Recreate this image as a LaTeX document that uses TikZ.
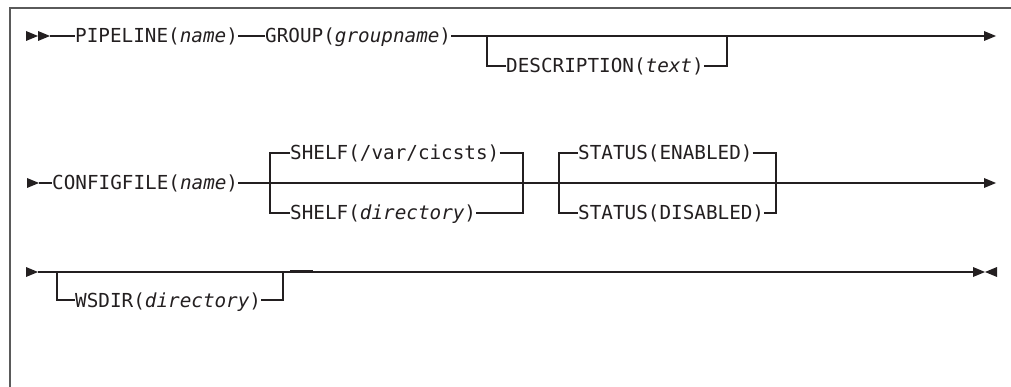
\documentclass[tikz,border=0pt]{standalone}
\usepackage{fontspec}
\newfontfamily\synfont{DejaVu Sans Mono}
\definecolor{ink}{HTML}{231F20}
\definecolor{framegray}{HTML}{5A5A5A}
\begin{document}
\begin{tikzpicture}[x=1pt,y=-1pt,
  kw/.style={anchor=base west,inner sep=0pt,font=\synfont\fontsize{19.3}{22}\selectfont,text=ink},
  rail/.style={draw=ink,line width=1.4pt},
  tip/.style={fill=ink}]
\useasboundingbox (0,0) rectangle (1011,387);
% frame
\draw[framegray,line width=2pt] (9.5,387) -- (9.5,8.5) -- (1011,8.5);

% ---------- row 1 ----------
\coordinate (r1s) at (50,36);
\fill[tip] (26,31) -- (38,36) -- (26,41) -- cycle;
\fill[tip] (38,31) -- (50,36) -- (38,41) -- cycle;
\node[kw] (pipe) at (75,43) {PIPELINE(\textit{name})};
\node[kw] (group) at (265,43) {GROUP(\textit{groupname})};
\node[kw] (desc) at (506,73) {DESCRIPTION(\textit{text})};
\coordinate (b1l) at (487,36);
\coordinate (b1r) at (727,36);
\coordinate (r1e) at (984,36);
\draw[rail] (r1s) -- (pipe.west |- r1s);
\draw[rail] (pipe.east |- r1s) -- (group.west |- r1s);
\draw[rail] (group.east |- r1s) -- (r1e);
\draw[rail] (b1l) -- (b1l |- 0,66) -- (desc.west |- 0,66);
\draw[rail] (desc.east |- 0,66) -- (b1r |- 0,66) -- (b1r);
\fill[tip] (r1e) ++(0,-5) -- ++(12,5) -- ++(-12,5) -- cycle;

% ---------- row 2 ----------
\coordinate (r2s) at (39,183);
\fill[tip] (27,178) -- (39,183) -- (27,188) -- cycle;
\node[kw] (cfg) at (52,190) {CONFIGFILE(\textit{name})};
\node[kw] (shelfa) at (290,160) {SHELF(/var/cicsts)};
\node[kw] (shelfb) at (290,220) {SHELF(\textit{directory})};
\node[kw] (stata) at (578,160) {STATUS(ENABLED)};
\node[kw] (statb) at (578,220) {STATUS(DISABLED)};
\coordinate (r2e) at (984,183);
\coordinate (b2l) at (270,183);
\coordinate (b2r) at (523,183);
\coordinate (b3l) at (559,183);
\coordinate (b3r) at (776,183);
\draw[rail] (r2s) -- (cfg.west |- r2s);
\draw[rail] (cfg.east |- r2s) -- (r2e);
\draw[rail] (shelfa.west |- 0,153) -- (b2l |- 0,153) -- (b2l |- 0,213) -- (shelfb.west |- 0,213);
\draw[rail] (shelfa.east |- 0,153) -- (b2r |- 0,153) -- (b2r |- 0,213) -- (shelfb.east |- 0,213);
\draw[rail] (stata.west |- 0,153) -- (b3l |- 0,153) -- (b3l |- 0,213) -- (statb.west |- 0,213);
\draw[rail] (stata.east |- 0,153) -- (b3r |- 0,153) -- (b3r |- 0,213) -- (statb.east |- 0,213);
\fill[tip] (r2e) ++(0,-5) -- ++(12,5) -- ++(-12,5) -- cycle;

% ---------- row 3 ----------
\coordinate (r3s) at (38,272);
\fill[tip] (26,267) -- (38,272) -- (26,277) -- cycle;
\node[kw] (wsdir) at (75,307) {WSDIR(\textit{directory})};
\coordinate (b4l) at (57,272);
\coordinate (b4r) at (283,272);
\coordinate (r3e) at (973,272);
\draw[rail] (r3s) -- (r3e);
\draw[rail] (b4l) -- (b4l |- 0,300) -- (wsdir.west |- 0,300);
\draw[rail] (wsdir.east |- 0,300) -- (b4r |- 0,300) -- (b4r);
\draw[ink,line width=2pt] (290,271) -- (313,271);
\fill[tip] (r3e) ++(0,-5) -- ++(12,5) -- ++(-12,5) -- cycle;
\fill[tip] (997,267) -- (985,272) -- (997,277) -- cycle;
\end{tikzpicture}
\end{document}
